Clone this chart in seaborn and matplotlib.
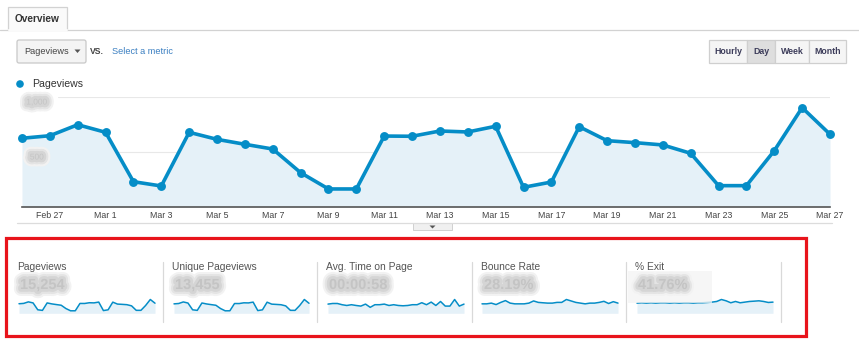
import matplotlib
matplotlib.use("Agg")
import matplotlib.pyplot as plt
import matplotlib.patheffects as pe
from matplotlib.patches import Rectangle, FancyBboxPatch, Circle, Polygon
import seaborn as sns
import pandas as pd

# ---------------- data ----------------
dates = ["Feb 26", "Feb 27", "Feb 28", "Mar 1", "Mar 2", "Mar 3", "Mar 4", "Mar 5",
         "Mar 6", "Mar 7", "Mar 8", "Mar 9", "Mar 10", "Mar 11", "Mar 12", "Mar 13",
         "Mar 14", "Mar 15", "Mar 16", "Mar 17", "Mar 18", "Mar 19", "Mar 20", "Mar 21",
         "Mar 22", "Mar 23", "Mar 24", "Mar 25", "Mar 26", "Mar 27"]
pageviews = [625, 648, 748, 679, 230, 191, 679, 615, 570, 527, 312, 164, 164, 645, 643,
             691, 682, 734, 179, 227, 730, 603, 585, 564, 488, 194, 194, 512, 903, 661]
unique_pageviews = [540, 560, 650, 588, 200, 168, 590, 535, 496, 460, 272, 142, 144, 560, 558,
                    600, 594, 640, 156, 198, 636, 524, 508, 490, 424, 170, 168, 446, 790, 574]
avg_time = [60, 64, 64, 56, 51, 56, 51, 47, 60, 39, 56, 56, 60, 51, 56,
            51, 49, 51, 56, 56, 69, 56, 73, 51, 77, 47, 47, 90, 47, 60]
bounce_rate = [27.4, 27.4, 29.5, 25.3, 31.6, 36.8, 29.5, 27.4, 27.4, 27.4, 29.5, 35.8, 31.6, 30.5, 29.5,
               29.5, 31.6, 31.6, 40.0, 35.8, 31.6, 29.5, 27.4, 29.5, 29.5, 31.6, 34.7, 28.4, 33.7, 29.5]
pct_exit = [29.5, 30.5, 29.5, 30.5, 29.5, 30.5, 30.5, 29.5, 30.5, 29.5, 30.5, 30.5, 29.5, 30.5, 30.5,
            31.4, 32.4, 34.3, 40.0, 36.2, 30.5, 34.3, 30.5, 32.4, 34.3, 35.2, 36.2, 34.3, 31.4, 32.4]

y_tick_values = [500, 1000]
y_tick_labels = ["500", "1,000"]
metric_titles = ["Pageviews", "Unique Pageviews", "Avg. Time on Page", "Bounce Rate", "% Exit"]
metric_values = ["15,254", "13,455", "00:00:58", "28.19%", "41.76%"]
metric_series = [pageviews, unique_pageviews, avg_time, bounce_rate, pct_exit]
period_buttons = ["Hourly", "Day", "Week", "Month"]

# ---------------- style ----------------
sns.set_style("white")
plt.rcParams["font.family"] = ["Liberation Sans", "DejaVu Sans"]

BLUE = "#058dc7"
FILL = "#e5f1f8"
W, H = 859, 348
fig = plt.figure(figsize=(W / 100, H / 100), dpi=100)

bg = fig.add_axes([0, 0, 1, 1])
bg.set_xlim(0, W)
bg.set_ylim(H, 0)
bg.axis("off")


def ax_px(x0, y0, x1, y1):
    return fig.add_axes([x0 / W, 1 - y1 / H, (x1 - x0) / W, (y1 - y0) / H])


blur = [pe.Stroke(linewidth=10, foreground="#f2f2f2"),
        pe.Stroke(linewidth=7, foreground="#e4e4e4"),
        pe.Stroke(linewidth=4, foreground="#d5d5d5"),
        pe.Normal()]

# ---------------- header UI ----------------
bg.plot([0, 8], [30, 30], color="#d2d2d2", lw=0.9)
bg.plot([67, W], [30, 30], color="#d2d2d2", lw=0.9)
bg.add_patch(Rectangle((8, 7), 59, 23, facecolor="#fafafa", edgecolor="#d2d2d2", lw=0.9))
bg.plot([8.5, 66.5], [30, 30], color="#fafafa", lw=1.5)
bg.text(37.5, 19, "Overview", fontsize=7.3, fontweight="bold", color="#333333",
        ha="center", va="center")

bg.add_patch(FancyBboxPatch((17, 40), 69, 23, boxstyle="round,pad=0,rounding_size=2",
                            facecolor="#f4f4f4", edgecolor="#c8c8c8", lw=0.9))
bg.text(24, 51.5, "Pageviews", fontsize=6.6, color="#444444", va="center")
bg.add_patch(Polygon([[74.5, 49.5], [80.5, 49.5], [77.5, 53]], closed=True,
                     facecolor="#555555", edgecolor="none"))
bg.text(90, 51, "VS.", fontsize=6.2, fontweight="bold", color="#444444", va="center")
bg.text(112, 51.5, "Select a metric", fontsize=6.6, color="#3a7fc1", va="center")

bx = [709, 747, 775, 809, 846]
for i, lab in enumerate(period_buttons):
    fc = "#dedede" if lab == "Day" else "#f5f5f5"
    bg.add_patch(Rectangle((bx[i], 40), bx[i + 1] - bx[i], 23, facecolor=fc,
                           edgecolor="#cfcfcf", lw=0.9))
    bg.text((bx[i] + bx[i + 1]) / 2, 51.5, lab, fontsize=6.3, fontweight="bold",
            color="#3c3c5a", ha="center", va="center")

bg.add_patch(Circle((20, 84), 3.8, facecolor=BLUE, edgecolor="none"))
bg.text(32, 84, "Pageviews", fontsize=7.6, color="#333333", va="center")

# ---------------- main chart ----------------
ax = ax_px(22, 97, 830, 207)
df = pd.DataFrame({"day": range(len(pageviews)), "pv": pageviews})
ax.fill_between(df["day"], 0, df["pv"], color=FILL, lw=0, zorder=1)
for v in y_tick_values:
    ax.axhline(v, xmin=36 / 808, xmax=1, color="#e8e8e8", lw=0.8, zorder=0)
sns.lineplot(data=df, x="day", y="pv", ax=ax, color=BLUE, lw=2.6, marker="o",
             markersize=6.4, markeredgewidth=0, clip_on=False, zorder=3)
ax.set_xlim(0, len(pageviews) - 1)
ax.set_ylim(0, 1000)
ax.set_facecolor("none")
for s in ["top", "right", "left"]:
    ax.spines[s].set_visible(False)
ax.spines["bottom"].set_color("#555555")
ax.spines["bottom"].set_linewidth(1.2)
ax.set_xticks(range(1, len(dates), 2))
ax.set_xticklabels(dates[1::2], fontsize=6.3, color="#444444")
ax.tick_params(axis="x", length=0, pad=3)
ax.set_yticks([])
ax.set_xlabel("")
ax.set_ylabel("")

# separator + handle below chart
bg.plot([17, 832], [223, 223], color="#dcdcdc", lw=0.9)
bg.add_patch(Rectangle((413, 223), 39, 7, facecolor="#f0f0f0", edgecolor="#d0d0d0", lw=0.7))
bg.add_patch(Polygon([[429.5, 225.5], [435.5, 225.5], [432.5, 228.5]], closed=True,
                     facecolor="#555555", edgecolor="none"))

# ---------------- metric sparklines ----------------
bg.add_patch(Rectangle((6, 238), 800, 98, facecolor="none", edgecolor="#e8141b", lw=2.3))
for x in [163, 317, 472, 626, 781]:
    bg.plot([x, x], [262, 322], color="#d9d9d9", lw=0.9)

panel_left = [17, 172, 326, 481, 635]
spark_x = [(19, 155), (174, 309), (328, 464), (482, 618), (637, 773)]
for i in range(5):
    bg.text(panel_left[i], 266.5, metric_titles[i], fontsize=7.4, color="#555555", va="center")
    if i < 4:
        bg.text(panel_left[i] + 3, 285, metric_values[i], fontsize=10.5, fontweight="bold",
                color="#c4c4c4", va="center", path_effects=blur)
    vals = metric_series[i]
    sdf = pd.DataFrame({"day": range(len(vals)), "v": vals})
    sax = ax_px(spark_x[i][0], 299.5, spark_x[i][1], 313.3)
    sax.fill_between(sdf["day"], 0, sdf["v"], color=FILL, lw=0)
    sns.lineplot(data=sdf, x="day", y="v", ax=sax, color=BLUE, lw=1.1, clip_on=False)
    sax.set_xlim(0, len(vals) - 1)
    sax.set_ylim(0, max(vals))
    sax.axis("off")

# overlay: blurred y labels and blurred % Exit value patch
ov = fig.add_axes([0, 0, 1, 1])
ov.set_xlim(0, W)
ov.set_ylim(H, 0)
ov.axis("off")
for v, lab in zip(y_tick_values, y_tick_labels):
    yy = 207 - v / 1000 * 110 + 6
    ov.text(37, yy, lab, fontsize=6, color="#c4c4c4", ha="center", va="center",
            path_effects=blur)
ov.add_patch(Rectangle((628, 271), 84, 32, facecolor="#f3f3f3", edgecolor="none", alpha=0.75))
ov.text(638, 285, metric_values[4], fontsize=10.5, fontweight="bold", color="#c4c4c4",
        va="center", path_effects=blur)

fig.savefig("out.png", dpi=100)
